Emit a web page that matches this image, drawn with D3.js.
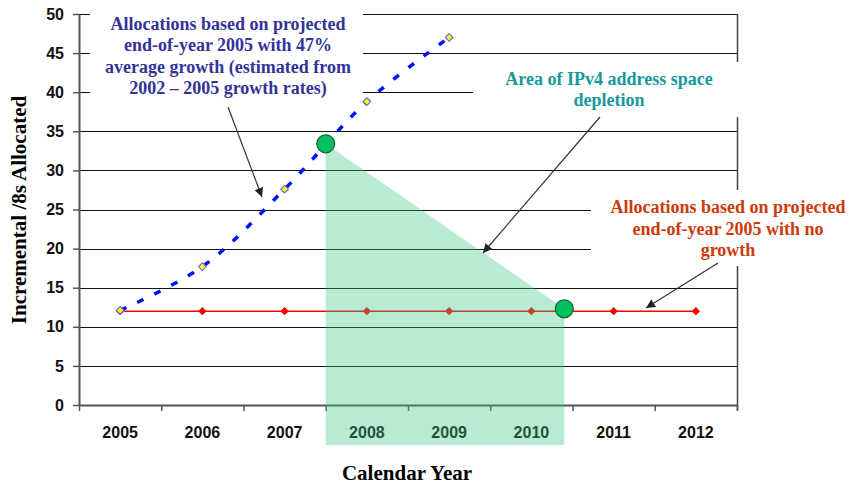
<!DOCTYPE html>
<html>
<head>
<meta charset="utf-8">
<script src="https://cdn.jsdelivr.net/npm/d3@7"></script>
<style>
  html, body { margin: 0; padding: 0; background: #fff; }
  svg { display: block; }
</style>
</head>
<body>
<svg id="chart" width="850" height="484"></svg>
<script>
// ---- data ----
const years = [2005, 2006, 2007, 2008, 2009, 2010, 2011, 2012];
const growthYears = [2005, 2006, 2007, 2008, 2009];
const growthValues = [12.1, 17.7, 27.6, 38.8, 47.0];      // 47% average growth projection
const flatValues = [12, 12, 12, 12, 12, 12, 12, 12];       // no-growth projection
const yTicks = [0, 5, 10, 15, 20, 25, 30, 35, 40, 45, 50];
const depletionYears = [2007.5, 2010.4];                    // start / end of depletion window
const depletionValues = [33.4, 12.3];
const depletionFloor = -5.1;                                // shaded band runs down through the year labels

const notes = {
  growth: ["Allocations based on projected", "end-of-year 2005 with 47%", "average growth (estimated from", "2002 \u2013 2005 growth rates)"],
  area: ["Area of IPv4 address space", "depletion"],
  flat: ["Allocations based on projected", "end-of-year 2005 with no", "growth"]
};

// ---- layout ----
const svg = d3.select("#chart");
const plot = { left: 79, right: 737, top: 14, bottom: 405 };

const x = d3.scaleLinear().domain([2004.5, 2012.5]).range([plot.left, plot.right]);
const xBand = d3.scaleBand().domain(years).range([plot.left, plot.right]);
const y = d3.scaleLinear().domain([0, 50]).range([plot.bottom, plot.top]);

const tickFont = "'Liberation Sans', Arial, sans-serif";
const serif = "'Liberation Serif', 'Times New Roman', serif";

// horizontal gridlines
svg.append("g")
  .selectAll("line")
  .data(yTicks.filter(d => d > 0))
  .join("line")
  .attr("x1", plot.left).attr("x2", plot.right)
  .attr("y1", d => Math.round(y(d)) + 0.5).attr("y2", d => Math.round(y(d)) + 0.5)
  .attr("stroke", "#111").attr("stroke-width", 1);

// right border of plot area
svg.append("line")
  .attr("x1", plot.right + 0.5).attr("x2", plot.right + 0.5)
  .attr("y1", plot.top).attr("y2", plot.bottom + 6)
  .attr("stroke", "#444").attr("stroke-width", 1.5);

// white backing boxes behind the annotation texts
const boxes = [
  { x: 90, y: 8, w: 273, h: 92 },
  { x: 473, y: 62, w: 280, h: 55 },
  { x: 591, y: 190, w: 259, h: 76 }
];
svg.append("g").selectAll("rect").data(boxes).join("rect")
  .attr("x", d => d.x).attr("y", d => d.y).attr("width", d => d.w).attr("height", d => d.h)
  .attr("fill", "#fff");

// y axis
const yAxis = svg.append("g")
  .attr("transform", `translate(${plot.left},0)`)
  .call(d3.axisLeft(y).tickValues(yTicks).tickSize(6).tickPadding(9).tickSizeOuter(0));
yAxis.select(".domain").attr("stroke", "#555").attr("stroke-width", 2);
yAxis.selectAll(".tick line").attr("stroke", "#555").attr("stroke-width", 1.5);
yAxis.selectAll("text")
  .attr("font-family", tickFont).attr("font-weight", "bold").attr("font-size", 16)
  .attr("fill", "#111");

// x axis: boundary ticks
const xAxis = svg.append("g")
  .attr("transform", `translate(0,${plot.bottom})`)
  .call(d3.axisBottom(x).tickValues(d3.range(2004.5, 2013, 1)).tickSize(6).tickFormat("").tickSizeOuter(0));
xAxis.select(".domain").attr("stroke", "#555").attr("stroke-width", 2);
xAxis.selectAll(".tick line").attr("stroke", "#555").attr("stroke-width", 1.5);

// x axis: year labels centred in each category
const xLabels = svg.append("g")
  .attr("transform", `translate(0,${plot.bottom})`)
  .call(d3.axisBottom(xBand).tickSize(0).tickPadding(22));
xLabels.select(".domain").remove();
xLabels.selectAll("text")
  .attr("font-family", tickFont).attr("font-weight", "bold").attr("font-size", 16)
  .attr("fill", "#111");

// axis titles
svg.append("text")
  .attr("transform", `translate(26,${210}) rotate(-90)`)
  .attr("text-anchor", "middle")
  .attr("font-family", serif).attr("font-weight", "bold").attr("font-size", 21)
  .text("Incremental /8s Allocated");
svg.append("text")
  .attr("x", 407).attr("y", 480)
  .attr("text-anchor", "middle")
  .attr("font-family", serif).attr("font-weight", "bold").attr("font-size", 21)
  .text("Calendar Year");

// square-proportioned diamond marker
const rhombus = r => `M0,${-r}L${r},0L0,${r}L${-r},0Z`;

// no-growth series
svg.append("path")
  .datum(years.map((yr, i) => [yr, flatValues[i]]))
  .attr("d", d3.line().x(d => x(d[0])).y(d => y(d[1])))
  .attr("fill", "none").attr("stroke", "#ff0000").attr("stroke-width", 1.5);
svg.append("g").selectAll("path")
  .data(years.map((yr, i) => [yr, flatValues[i]]))
  .join("path")
  .attr("transform", d => `translate(${x(d[0])},${y(d[1])})`)
  .attr("d", rhombus(4.2))
  .attr("fill", "#ff0000");

// depletion area (translucent overlay)
const areaPts = [
  [depletionYears[0], depletionValues[0]],
  [depletionYears[1], depletionValues[1]],
  [depletionYears[1], depletionFloor],
  [depletionYears[0], depletionFloor]
];
svg.append("path")
  .attr("d", d3.line().x(d => x(d[0])).y(d => y(d[1]))(areaPts) + "Z")
  .attr("fill", "#39c881").attr("fill-opacity", 0.36);

// growth series (smoothed dashed line)
const growthPts = growthYears.map((yr, i) => [yr, growthValues[i]]);
svg.append("path")
  .datum(growthPts)
  .attr("d", d3.line().x(d => x(d[0])).y(d => y(d[1])).curve(d3.curveCatmullRom.alpha(0.5)))
  .attr("fill", "none").attr("stroke", "#0010ff").attr("stroke-width", 3.5)
  .attr("stroke-dasharray", "7,12");
svg.append("g").selectAll("path")
  .data(growthPts)
  .join("path")
  .attr("transform", d => `translate(${x(d[0])},${y(d[1])})`)
  .attr("d", rhombus(3.8))
  .attr("fill", "#ffff00").attr("stroke", "#6a6ae8").attr("stroke-width", 1.2);

// depletion start/end markers
svg.append("g").selectAll("circle")
  .data(depletionYears.map((yr, i) => [yr, depletionValues[i]]))
  .join("circle")
  .attr("cx", d => x(d[0])).attr("cy", d => y(d[1])).attr("r", 9)
  .attr("fill", "#00c060").attr("stroke", "#1d5a38").attr("stroke-width", 1.2);

// arrows
const defs = svg.append("defs");
defs.append("marker")
  .attr("id", "arrow").attr("viewBox", "0 0 10 10")
  .attr("refX", 10).attr("refY", 5)
  .attr("markerWidth", 11).attr("markerHeight", 9)
  .attr("markerUnits", "userSpaceOnUse")
  .attr("orient", "auto")
  .append("path").attr("d", "M0,0L10,5L0,10Z").attr("fill", "#222");

const arrows = [
  { from: [228, 107], to: [262, 197] },
  { from: [600, 117], to: [483, 253] },
  { from: [718, 263], to: [646, 308] }
];
svg.append("g").selectAll("line").data(arrows).join("line")
  .attr("x1", d => d.from[0]).attr("y1", d => d.from[1])
  .attr("x2", d => d.to[0]).attr("y2", d => d.to[1])
  .attr("stroke", "#333").attr("stroke-width", 1.2)
  .attr("marker-end", "url(#arrow)");

// annotation texts
function note(lines, cx, firstBaseline, lineStep, color) {
  const t = svg.append("text")
    .attr("text-anchor", "middle")
    .attr("font-family", serif).attr("font-weight", "bold").attr("font-size", 18)
    .attr("fill", color);
  t.selectAll("tspan").data(lines).join("tspan")
    .attr("x", cx).attr("y", (d, i) => firstBaseline + i * lineStep)
    .text(d => d);
}
note(notes.growth, 228, 30, 21.3, "#333399");
note(notes.area, 609, 85, 21, "#15999a");
note(notes.flat, 728, 213, 21.5, "#cc3a0a");
</script>
</body>
</html>
